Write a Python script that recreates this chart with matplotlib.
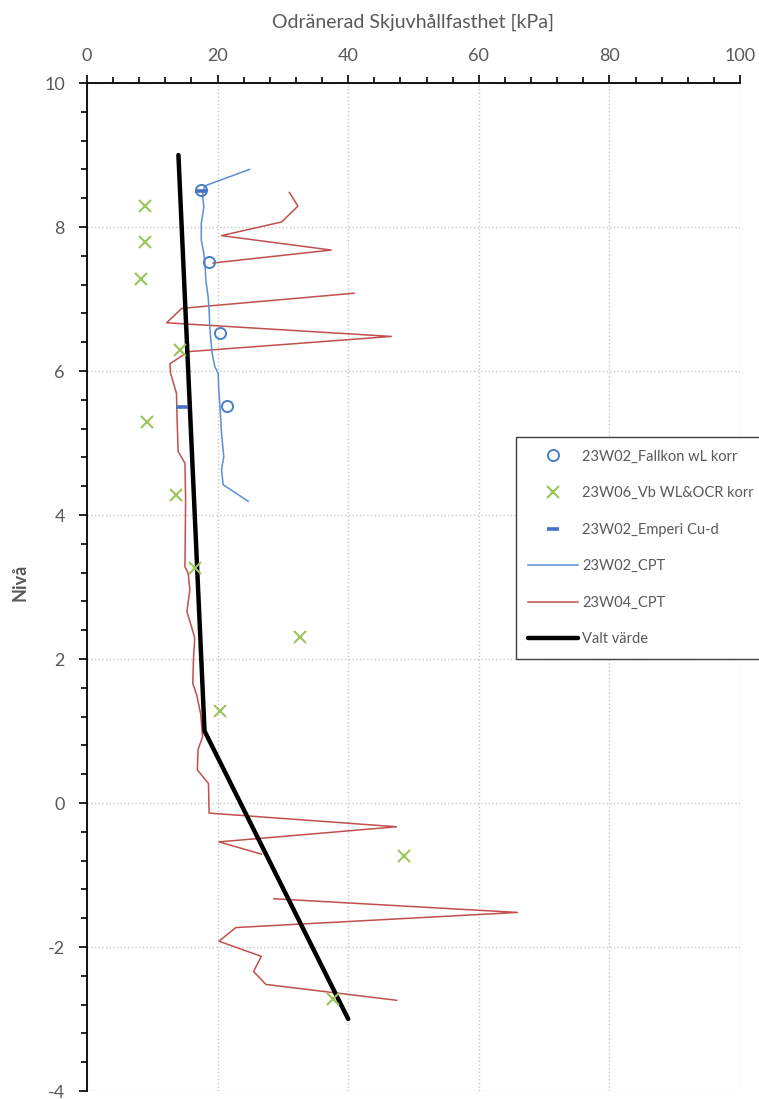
import numpy as np
import matplotlib
matplotlib.use('Agg')
import matplotlib.pyplot as plt
from matplotlib.ticker import MultipleLocator

plt.rcParams['font.family'] = ['Lato', 'DejaVu Sans']
plt.rcParams['axes.unicode_minus'] = False

nan = np.nan

# 23W02 fall cone
fallkon_x = [17.5, 18.7, 20.4, 21.5]
fallkon_y = [8.52, 7.51, 6.53, 5.52]

# 23W06 vane test
vb_x = [8.9, 8.9, 8.3, 14.2, 9.2, 13.7, 16.6, 32.6, 20.4, 48.5, 37.7]
vb_y = [8.29, 7.79, 7.28, 6.29, 5.29, 4.28, 3.27, 2.30, 1.28, -0.73, -2.72]

# 23W02 empirical
emperi_x = [17.5, 14.6]
emperi_y = [8.5, 5.5]

# 23W02 CPT
cpt02_x = [24.9, 18.0, 17.7, 17.9, 17.5, 17.5, 17.9, 18.1, 18.2, 18.55, 18.7, 18.8,
           18.96, 19.16, 19.57, 20.08, 20.18, 20.4, 20.6, 20.95, 20.6, 20.85, 24.7]
cpt02_y = [8.80, 8.57, 8.44, 8.28, 8.05, 7.82, 7.63, 7.45, 7.26, 7.03, 6.85, 6.62,
           6.43, 6.25, 6.06, 5.97, 5.74, 5.46, 5.13, 4.81, 4.63, 4.42, 4.19]

# 23W04 CPT (nan = gap in the series)
cpt04_x = [31.0, 32.3, 29.8, 20.6, 37.4, 19.3, nan, 40.9, 14.5, 12.2, 46.6, 15.7,
           14.7, 12.7, 12.8, 13.7, 13.8, 13.96, 15.0, 15.1, 15.0, 15.5, 15.75, 15.3,
           16.0, 16.5, 16.3, 16.2, 16.8, 17.4, 17.7, 17.0, 16.9, 18.6, 18.7, 47.4,
           20.2, 26.7, nan, 28.6, 65.9, 22.8, 20.2, 26.7, 25.5, 27.4, 47.4]
cpt04_y = [8.48, 8.29, 8.07, 7.88, 7.68, 7.50, nan, 7.08, 6.87, 6.67, 6.48, 6.27,
           6.22, 6.10, 5.97, 5.69, 5.32, 4.88, 4.72, 4.21, 3.28, 3.19, 2.96, 2.66,
           2.45, 2.29, 1.99, 1.66, 1.50, 1.24, 0.92, 0.74, 0.46, 0.27, -0.14, -0.33,
           -0.54, -0.71, nan, -1.33, -1.52, -1.73, -1.92, -2.13, -2.34, -2.52, -2.74]

# chosen value
valt_x = [14, 18, 40]
valt_y = [9, 1, -3]

grey = '#595959'

fig = plt.figure(figsize=(7.59, 10.99), dpi=100)
ax = fig.add_axes([87/759, 1-1091/1099, (740-87)/759, (1091-83)/1099])

l_red, = ax.plot(cpt04_x, cpt04_y, color='#C0504D', lw=1.1, label='23W04_CPT', zorder=2)
l_blue, = ax.plot(cpt02_x, cpt02_y, color='#5B8FD5', lw=1.1, label='23W02_CPT', zorder=3)
l_black, = ax.plot(valt_x, valt_y, color='black', lw=3.2, solid_capstyle='round',
                   label='Valt värde', zorder=4)
m_fk, = ax.plot(fallkon_x, fallkon_y, 'o', ms=8, mfc='none', mec='#4A7EC8', mew=1.4,
                ls='none', label='23W02_Fallkon wL korr', zorder=5)
m_vb, = ax.plot(vb_x, vb_y, 'x', ms=9, mec='#9BC55A', mew=1.5, ls='none',
                label='23W06_Vb WL&OCR korr', zorder=5)
m_em, = ax.plot(emperi_x, emperi_y, '_', ms=8, mec='#4472C4', mew=2.6, ls='none',
                label='23W02_Emperi Cu-d', zorder=5)

ax.set_xlim(0, 100)
ax.set_ylim(-4, 10)
ax.xaxis.tick_top()
ax.xaxis.set_label_position('top')
ax.xaxis.set_major_locator(MultipleLocator(20))
ax.xaxis.set_minor_locator(MultipleLocator(4))
ax.yaxis.set_major_locator(MultipleLocator(2))
ax.yaxis.set_minor_locator(MultipleLocator(0.4))
ax.tick_params(which='major', direction='out', length=6, width=1.2, colors='black',
               labelcolor=grey, labelsize=13, pad=8)
ax.tick_params(which='minor', direction='out', length=4, width=1.2, colors='black')
ax.tick_params(axis='y', which='major', pad=10)

for s in ['right', 'bottom']:
    ax.spines[s].set_visible(False)
for s in ['left', 'top']:
    ax.spines[s].set_linewidth(1.3)

ax.grid(True, which='major', color='#C8C8C8', ls=':', lw=1)
ax.set_axisbelow(True)

ax.set_xlabel('Odränerad Skjuvhållfasthet [kPa]', color=grey, fontsize=14, labelpad=14)
ax.set_ylabel('Nivå', color=grey, fontsize=13, fontweight='bold', labelpad=14)
ax.yaxis.set_label_coords(-0.09, 0.505)

leg = ax.legend(handles=[m_fk, m_vb, m_em, l_blue, l_red, l_black],
                loc='upper left', bbox_to_anchor=(516/759, 1-437/1099),
                bbox_transform=fig.transFigure, borderaxespad=0, fontsize=10.5,
                frameon=True, fancybox=False, edgecolor='#404040', framealpha=1,
                handlelength=3.4, handletextpad=0.3, labelspacing=1.55,
                borderpad=0.85, labelcolor=grey)
leg.get_frame().set_linewidth(1.0)

fig.savefig('out.png', dpi=100)
